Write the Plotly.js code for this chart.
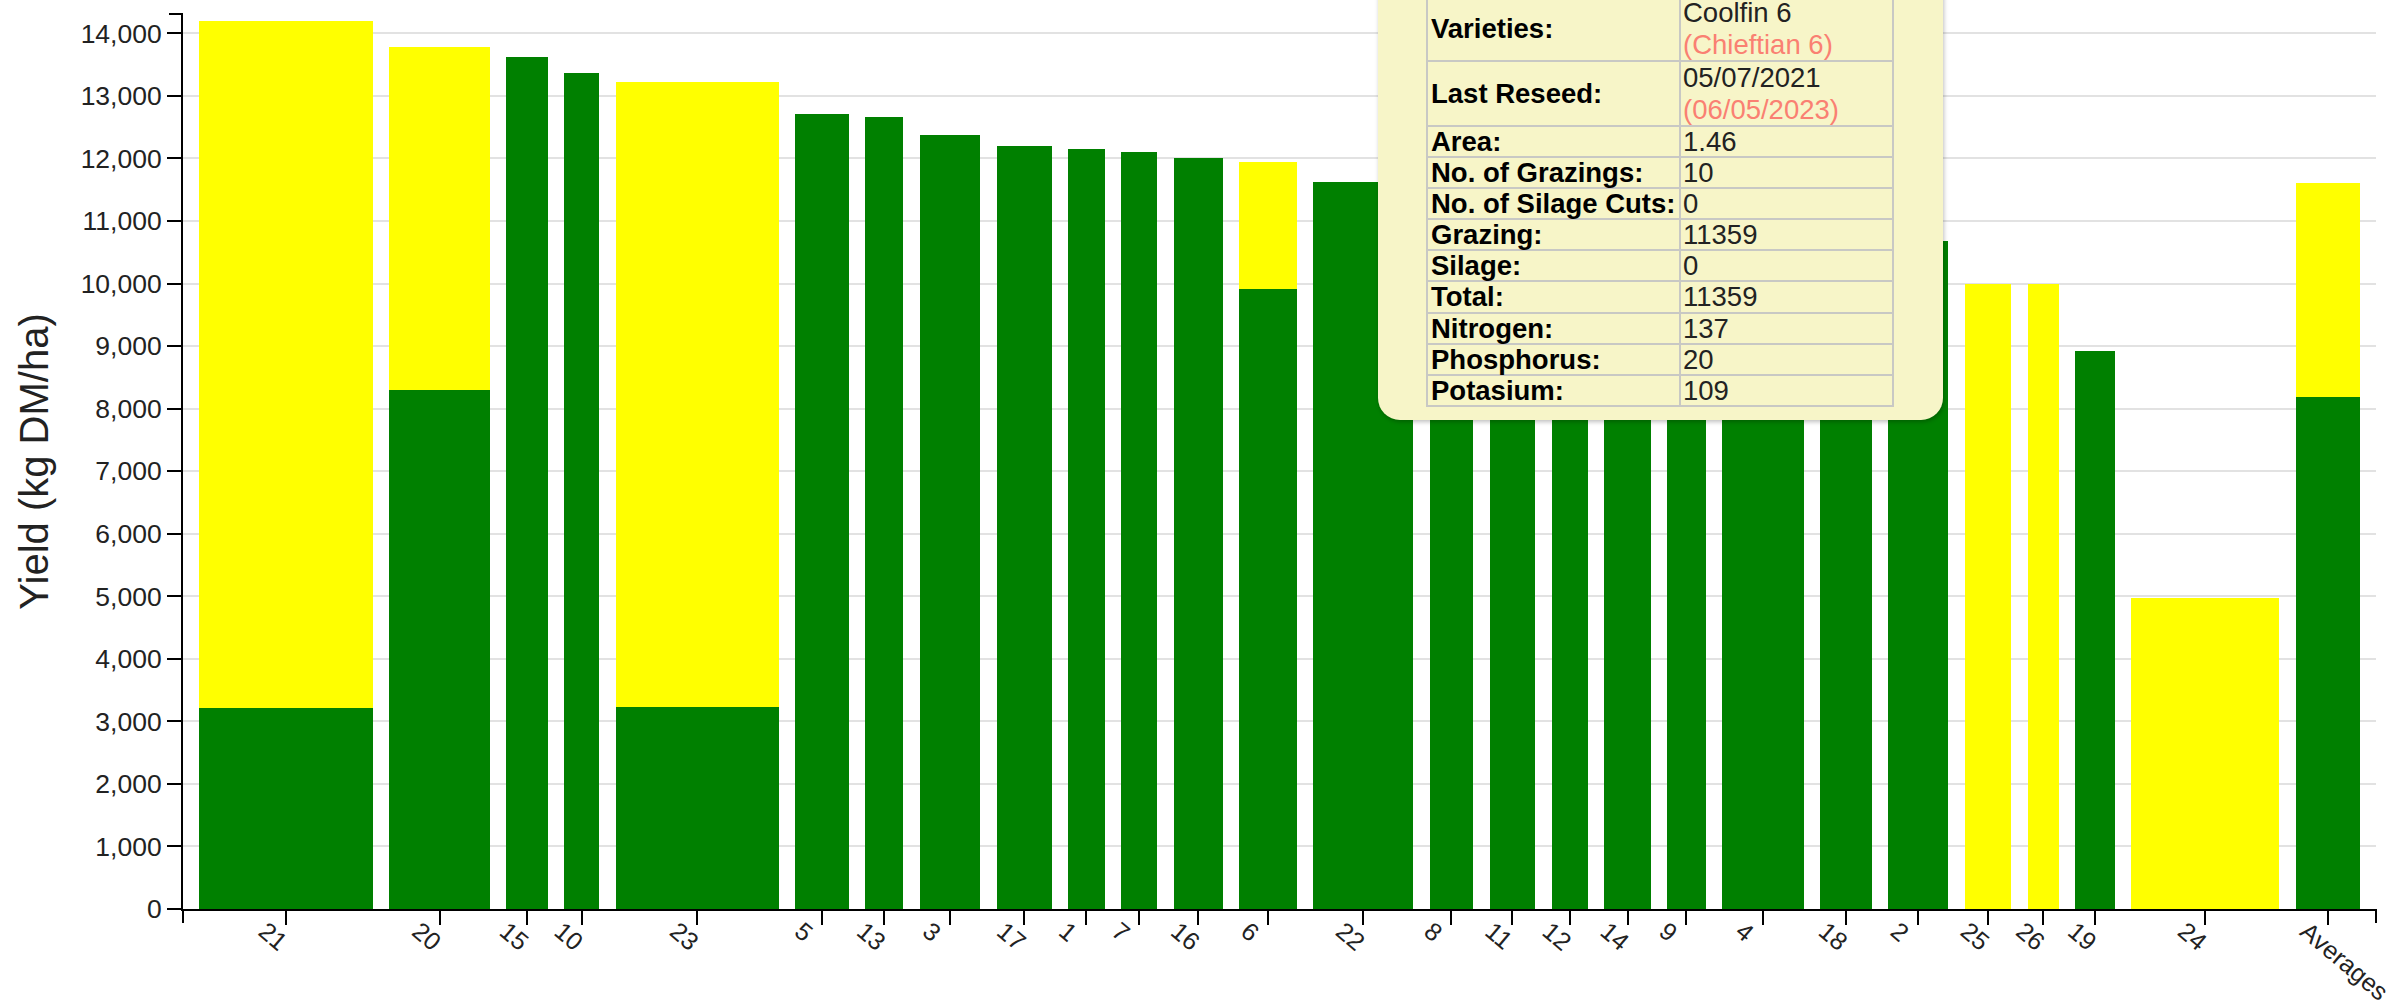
<!DOCTYPE html>
<html>
<head>
<meta charset="utf-8">
<script src="https://cdn.plot.ly/plotly-3.0.1.min.js"></script>
<style>
  html, body { margin: 0; padding: 0; background: #fff; overflow: hidden; }
  #wrap { position: relative; width: 2407px; height: 1007px; overflow: hidden; }
  #chart { position: absolute; left: 0; top: 0; width: 2407px; height: 1007px; }
  #tip {
    position: absolute; left: 1378px; top: -40px; width: 565px; height: 460px;
    box-sizing: border-box; padding: 35px 0 0 48px;
    background: #f7f5c8; border-radius: 22px;
    box-shadow: 1px 2px 4px rgba(0,0,0,0.25);
    font-family: "Liberation Sans", Arial, sans-serif; font-size: 27.5px; color: #222;
  }
  #tip table { border-collapse: collapse; width: 468px; }
  #tip td { border: 2px solid #c8c8c4; padding: 0 0 0 2px; line-height: 29.1px; vertical-align: middle; white-space: nowrap; }
  #tip tr.two td { line-height: 31.5px; }
  #tip td.k { font-weight: bold; color: #000; width: 248px; padding-left: 3px; }
  #tip .old { color: salmon; }
</style>
</head>
<body>
<div id="wrap">
  <div id="chart"></div>
  <div id="tip">
    <table>
      <tr class="two"><td class="k">Varieties:</td><td>Coolfin 6<br><span class="old">(Chieftian 6)</span></td></tr>
      <tr class="two"><td class="k">Last Reseed:</td><td>05/07/2021<br><span class="old">(06/05/2023)</span></td></tr>
      <tr><td class="k">Area:</td><td>1.46</td></tr>
      <tr><td class="k">No. of Grazings:</td><td>10</td></tr>
      <tr><td class="k">No. of Silage Cuts:</td><td>0</td></tr>
      <tr><td class="k">Grazing:</td><td>11359</td></tr>
      <tr><td class="k">Silage:</td><td>0</td></tr>
      <tr><td class="k">Total:</td><td>11359</td></tr>
      <tr><td class="k">Nitrogen:</td><td>137</td></tr>
      <tr><td class="k">Phosphorus:</td><td>20</td></tr>
      <tr><td class="k">Potasium:</td><td>109</td></tr>
    </table>
  </div>
</div>
<script>
// ---- data ----
const paddocks = ["21","20","15","10","23","5","13","3","17","1","7","16","6","22","8","11","12","14","9","4","18","2","25","26","19","24","Averages"];
// paddock areas (ha) -> bar widths
const areas    = [5.78,3.37,1.38,1.18,5.43,1.80,1.27,2.03,1.84,1.21,1.22,1.64,1.93,3.33,1.46,1.52,1.22,1.55,1.28,2.74,1.71,2.01,1.56,1.05,1.32,4.93,2.14];
// grazing yield (kg DM/ha), green
const grazing  = [3206,8300,13620,13360,3230,12710,12670,12370,12200,12155,12100,12000,9910,11620,11359,11250,11150,11060,10970,10880,10790,10680,0,0,8920,0,8180];
// silage yield (kg DM/ha), yellow
const silage   = [10991,5486,0,0,10000,0,0,0,0,0,0,0,2030,0,0,0,0,0,0,0,0,0,9990,9990,0,4980,3420];

// ---- layout of variable-width bars ----
const GAP = 0.543;               // gap between bars, in area units
const centers = [];
let cursor = GAP;
for (let i = 0; i < areas.length; i++) {
  centers.push(cursor + areas[i] / 2);
  cursor += areas[i] + GAP;
}
const xMax = cursor;

const FONT = "Liberation Sans, Arial, sans-serif";

const traces = [
  { type: "bar", name: "Grazing", x: centers, y: grazing, width: areas,
    marker: { color: "#008000", line: { width: 0 } }, hoverinfo: "skip" },
  { type: "bar", name: "Silage", x: centers, y: silage, width: areas,
    marker: { color: "#ffff00", line: { width: 0 } }, hoverinfo: "skip" }
];

const layout = {
  width: 2407, height: 1007,
  margin: { l: 183, r: 31, t: 14, b: 98, pad: 0 },
  paper_bgcolor: "#fff", plot_bgcolor: "#fff",
  barmode: "stack", bargap: 0,
  showlegend: false,
  font: { family: FONT, color: "#222", size: 26.5 },
  xaxis: {
    range: [0, xMax], showgrid: false, zeroline: false,
    tickmode: "array", tickvals: centers, ticktext: paddocks,
    tickangle: 40, ticks: "outside", ticklen: 14, tickwidth: 2, tickcolor: "#000",
    ticklabeloverflow: "allow", ticklabelshift: -21, ticklabelstandoff: -18,
    showline: true, linecolor: "#000", linewidth: 2,
    tickfont: { family: FONT, size: 25, color: "#222" },
    fixedrange: true
  },
  yaxis: {
    range: [0, 14310], dtick: 1000, tick0: 0, tickformat: ",d",
    showgrid: true, gridcolor: "#e2e2e2", gridwidth: 2, zeroline: false,
    ticks: "outside", ticklen: 14, tickwidth: 2, tickcolor: "#000",
    showline: true, linecolor: "#000", linewidth: 2,
    tickfont: { family: FONT, size: 26.5, color: "#222" },
    title: { text: "Yield (kg DM/ha)", font: { family: FONT, size: 40, color: "#222" }, standoff: 20 },
    fixedrange: true
  },
  shapes: [
    { type: "line", xref: "paper", yref: "paper", xsizemode: "pixel", xanchor: 0,
      x0: -14, x1: 0, y0: 1, y1: 1, line: { color: "#000", width: 2 } },
    { type: "line", xref: "paper", yref: "paper", ysizemode: "pixel", yanchor: 0,
      x0: 0, x1: 0, y0: 0, y1: -14, line: { color: "#000", width: 2 } },
    { type: "line", xref: "paper", yref: "paper", ysizemode: "pixel", yanchor: 0,
      x0: 1, x1: 1, y0: 0, y1: -14, line: { color: "#000", width: 2 } }
  ]
};

Plotly.newPlot("chart", traces, layout, { displayModeBar: false, staticPlot: true });
</script>
</body>
</html>
